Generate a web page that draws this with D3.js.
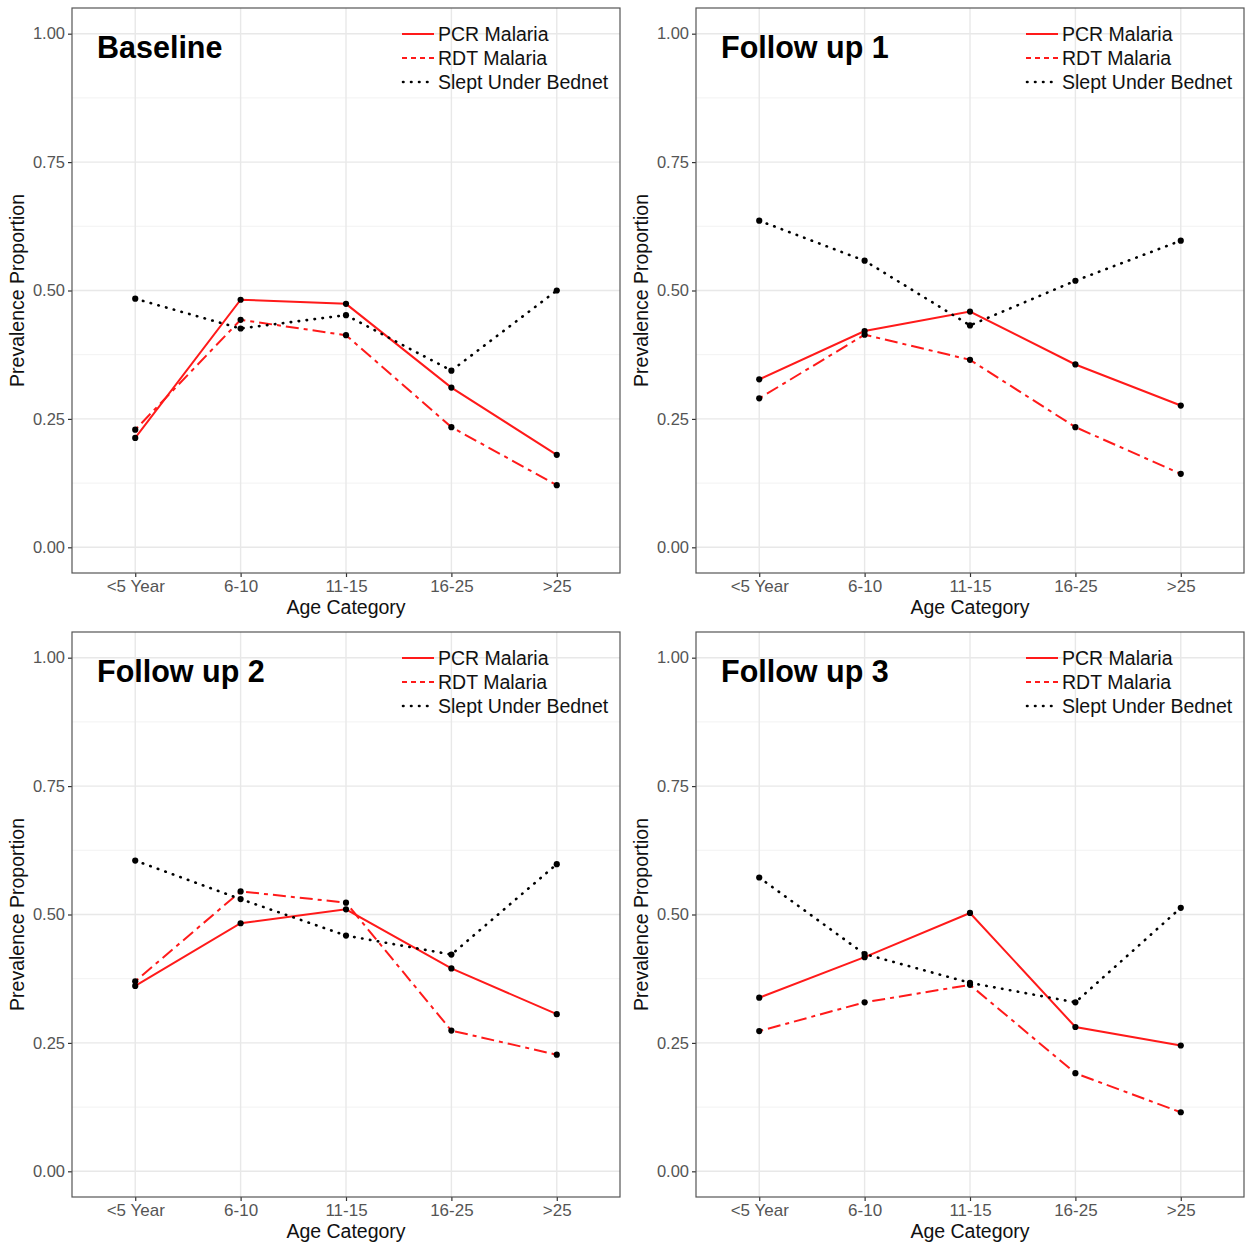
<!DOCTYPE html>
<html>
<head>
<meta charset="utf-8">
<script src="https://cdn.jsdelivr.net/npm/d3@7"></script>
<style>
  html, body { margin: 0; padding: 0; background: #fff; }
  svg { display: block; font-family: "Liberation Sans", Arial, sans-serif; }
</style>
</head>
<body>
<svg id="chart" width="1250" height="1245"></svg>
<script>
// ---- data ----
const categories = ["<5 Year", "6-10", "11-15", "16-25", ">25"];
const panelTitles = ["Baseline", "Follow up 1", "Follow up 2", "Follow up 3"];
const seriesNames = ["PCR Malaria", "RDT Malaria", "Slept Under Bednet"];
const yTicks = [0, 0.25, 0.5, 0.75, 1];
const yTickLabels = ["0.00", "0.25", "0.50", "0.75", "1.00"];

const pcrBaseline    = [0.213, 0.482, 0.474, 0.311, 0.180];
const rdtBaseline    = [0.229, 0.443, 0.413, 0.234, 0.121];
const bednetBaseline = [0.484, 0.426, 0.452, 0.344, 0.500];

const pcrFollow1     = [0.327, 0.421, 0.459, 0.356, 0.276];
const rdtFollow1     = [0.290, 0.414, 0.365, 0.234, 0.143];
const bednetFollow1  = [0.636, 0.558, 0.432, 0.519, 0.597];

const pcrFollow2     = [0.361, 0.483, 0.510, 0.395, 0.306];
const rdtFollow2     = [0.370, 0.545, 0.523, 0.274, 0.227];
const bednetFollow2  = [0.605, 0.530, 0.459, 0.422, 0.598];

const pcrFollow3     = [0.338, 0.417, 0.503, 0.281, 0.245];
const rdtFollow3     = [0.273, 0.329, 0.363, 0.191, 0.115];
const bednetFollow3  = [0.572, 0.423, 0.367, 0.329, 0.513];

const panelsData = [
  [pcrBaseline, rdtBaseline, bednetBaseline],
  [pcrFollow1, rdtFollow1, bednetFollow1],
  [pcrFollow2, rdtFollow2, bednetFollow2],
  [pcrFollow3, rdtFollow3, bednetFollow3]
];

// ---- styles ----
const seriesStyle = [
  { color: "#ff1a1a", dash: null, width: 2, cap: "butt" },
  { color: "#ff1a1a", dash: "4,5,13,5", width: 2, cap: "butt" },
  { color: "#000000", dash: "0.5,7.5", width: 2.6, cap: "round" }
];

const svg = d3.select("#chart");
const panelPos = [
  { x: 72, y: 8 },
  { x: 696, y: 8 },
  { x: 72, y: 632 },
  { x: 696, y: 632 }
];
const pw = 548, ph = 565;

panelPos.forEach((pos, pi) => {
  const g = svg.append("g").attr("transform", `translate(${pos.x},${pos.y})`);
  const x = d3.scalePoint().domain(categories).range([0, pw]).padding(0.6);
  const y = d3.scaleLinear().domain([-0.05, 1.05]).range([ph, 0]);

  // minor grid
  const minor = [0.125, 0.375, 0.625, 0.875];
  g.selectAll(".minor").data(minor).join("line")
    .attr("x1", 0).attr("x2", pw)
    .attr("y1", d => y(d)).attr("y2", d => y(d))
    .attr("stroke", "#f2f2f2").attr("stroke-width", 1);
  // major grid
  g.selectAll(".majory").data(yTicks).join("line")
    .attr("x1", 0).attr("x2", pw)
    .attr("y1", d => y(d)).attr("y2", d => y(d))
    .attr("stroke", "#e8e8e8").attr("stroke-width", 1.4);
  g.selectAll(".majorx").data(categories).join("line")
    .attr("x1", d => x(d)).attr("x2", d => x(d))
    .attr("y1", 0).attr("y2", ph)
    .attr("stroke", "#e8e8e8").attr("stroke-width", 1.4);

  // axes
  const yAxis = d3.axisLeft(y).tickValues(yTicks)
    .tickFormat((d, i) => yTickLabels[i]).tickSize(4).tickPadding(3);
  const ya = g.append("g").call(yAxis);
  ya.select(".domain").remove();
  ya.selectAll("line").attr("stroke", "#333").attr("stroke-width", 1.2);
  ya.selectAll("text").attr("fill", "#555").attr("font-size", 16.5)
    .attr("font-family", "Liberation Sans, Arial, sans-serif");

  const xAxis = d3.axisBottom(x).tickSize(4).tickPadding(3);
  const xa = g.append("g").attr("transform", `translate(0,${ph})`).call(xAxis);
  xa.select(".domain").remove();
  xa.selectAll("line").attr("stroke", "#333").attr("stroke-width", 1.2);
  xa.selectAll("text").attr("fill", "#555").attr("font-size", 17)
    .attr("font-family", "Liberation Sans, Arial, sans-serif");

  // border
  g.append("rect").attr("x", 0).attr("y", 0).attr("width", pw).attr("height", ph)
    .attr("fill", "none").attr("stroke", "#555").attr("stroke-width", 1.2);

  // axis titles
  g.append("text").attr("x", pw / 2).attr("y", ph + 41)
    .attr("text-anchor", "middle").attr("font-size", 19.5).attr("fill", "#111")
    .text("Age Category");
  g.append("text")
    .attr("transform", `translate(${-48},${ph / 2}) rotate(-90)`)
    .attr("text-anchor", "middle").attr("font-size", 19.5).attr("fill", "#111")
    .text("Prevalence Proportion");

  // lines
  const line = d3.line().x((d, i) => x(categories[i])).y(d => y(d));
  panelsData[pi].forEach((vals, si) => {
    const st = seriesStyle[si];
    g.append("path").datum(vals).attr("d", line)
      .attr("fill", "none").attr("stroke", st.color)
      .attr("stroke-width", st.width)
      .attr("stroke-dasharray", st.dash)
      .attr("stroke-linecap", st.cap);
  });
  // points
  panelsData[pi].forEach(vals => {
    g.selectAll(null).data(vals).join("circle")
      .attr("cx", (d, i) => x(categories[i])).attr("cy", d => y(d))
      .attr("r", 3.1).attr("fill", "#000");
  });

  // panel title
  g.append("text").attr("x", 25).attr("y", 50)
    .attr("font-size", 30.5).attr("font-weight", "bold").attr("fill", "#000")
    .text(panelTitles[pi]);

  // legend
  const lg = g.append("g").attr("transform", `translate(330,26)`);
  seriesNames.forEach((name, si) => {
    const st = seriesStyle[si];
    const yy = si * 24;
    lg.append("line").attr("x1", si === 2 ? 1 : 0).attr("x2", 32).attr("y1", yy).attr("y2", yy)
      .attr("stroke", st.color).attr("stroke-width", st.width)
      .attr("stroke-dasharray", si === 1 ? "5,4" : st.dash)
      .attr("stroke-linecap", st.cap);
    lg.append("text").attr("x", 36).attr("y", yy + 6.5)
      .attr("font-size", 19.5).attr("fill", "#111").text(name);
  });
});
</script>
</body>
</html>
